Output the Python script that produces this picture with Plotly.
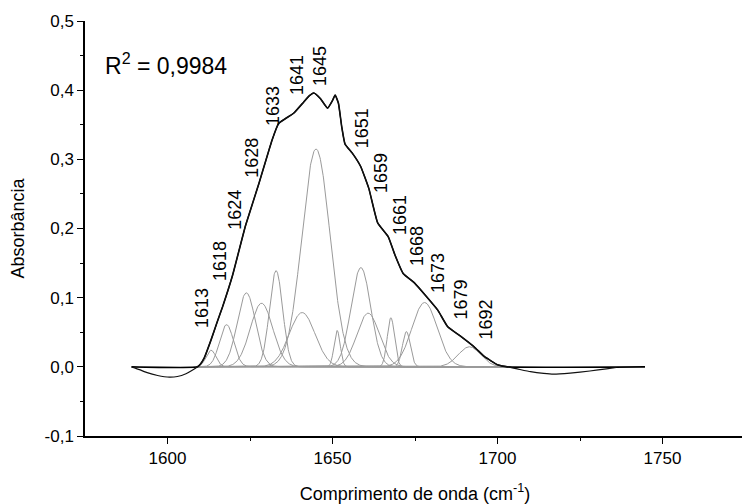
import numpy as np
import plotly.graph_objects as go

# ---- data ----
# measured spectrum: envelope core (cm-1, absorbance)
core_x = [1609.1, 1610.0, 1611.1, 1613.2, 1615.0, 1616.7, 1619.7, 1621.5, 1623.7, 1627.7,
          1631.7, 1633.7, 1635.8, 1638.3, 1641.3, 1643.0, 1644.3, 1646.3, 1648.5, 1650.0,
          1650.8, 1651.8, 1652.8, 1653.8, 1656.0, 1658.5, 1661.0, 1663.7, 1666.9, 1668.9,
          1671.4, 1674.9, 1678.4, 1681.9, 1684.9, 1688.9, 1692.9, 1696.0, 1700.0, 1703.0]
core_y = [0.000, 0.004, 0.0125, 0.039, 0.064, 0.087, 0.132, 0.165, 0.205, 0.265,
          0.328, 0.352, 0.359, 0.367, 0.383, 0.392, 0.396, 0.388, 0.374, 0.385,
          0.393, 0.381, 0.347, 0.322, 0.309, 0.290, 0.258, 0.208, 0.188, 0.162,
          0.135, 0.121, 0.102, 0.082, 0.058, 0.044, 0.029, 0.015, 0.003, 0.000]
# baseline-region dips of the measured spectrum
left_dip_x = [1589.1, 1591.5, 1593.6, 1597.0, 1600.6, 1603.0, 1605.6, 1607.5]
left_dip_y = [0.000, -0.004, -0.008, -0.0125, -0.015, -0.0140, -0.010, -0.005]
right_dip_x = [1706.0, 1710.0, 1714.0, 1717.0, 1722.0, 1728.0, 1733.0, 1736.0]
right_dip_y = [-0.003, -0.007, -0.0095, -0.0105, -0.009, -0.006, -0.003, -0.001]
# fitted curve range ends
fit_start, fit_end = 1589.1, 1744.7

# gaussian components: centre, height, FWHM
peak_center = [1613.2, 1617.9, 1623.9, 1628.5, 1632.9, 1640.8, 1645.0,
               1651.4, 1658.6, 1660.8, 1667.7, 1672.4, 1677.9, 1691.5]
peak_height = [0.024, 0.061, 0.107, 0.092, 0.139, 0.0785, 0.315,
               0.0525, 0.1435, 0.0776, 0.071, 0.051, 0.093, 0.029]
peak_fwhm = [3.5, 5.0, 6.5, 8.0, 4.7, 9.2, 10.0,
             2.2, 7.0, 8.0, 2.6, 2.8, 9.0, 8.0]
comp_range = (1609.0, 1703.0)

peak_labels = ["1613", "1618", "1624", "1628", "1633", "1641", "1645",
               "1651", "1659", "1661", "1668", "1673", "1679", "1692"]
r2_text = "R<sup>2</sup> = 0,9984"

y_tickvals = [-0.1, 0.0, 0.1, 0.2, 0.3, 0.4, 0.5]
y_ticktext = ["-0,1", "0,0", "0,1", "0,2", "0,3", "0,4", "0,5"]
x_tickvals = [1600, 1650, 1700, 1750]
x_ticktext = ["1600", "1650", "1700", "1750"]

# ---- layout of labels (anchor = bottom centre of the rotated text) ----
label_pos = [(1610.4, 0.053), (1615.9, 0.121), (1620.6, 0.196), (1625.5, 0.270),
             (1631.9, 0.345), (1639.2, 0.390), (1646.2, 0.403), (1658.9, 0.313),
             (1664.9, 0.248), (1670.5, 0.188), (1675.6, 0.143), (1682.0, 0.104),
             (1688.8, 0.065), (1696.4, 0.036)]

FONT = "Liberation Sans, Arial, sans-serif"

fig = go.Figure()

xs = np.linspace(comp_range[0], comp_range[1], 900)
for c, h, w in zip(peak_center, peak_height, peak_fwhm):
    s = w / 2.3548
    fig.add_trace(go.Scatter(x=xs, y=h * np.exp(-0.5 * ((xs - c) / s) ** 2),
                             mode="lines", line=dict(color="#9a9a9a", width=1),
                             hoverinfo="skip", showlegend=False))

# fitted curve (flat outside the band, follows the envelope inside)
fit_x = [fit_start] + core_x + [fit_end]
fit_y = [0.0] + core_y + [0.0]
fig.add_trace(go.Scatter(x=fit_x, y=fit_y, mode="lines",
                         line=dict(color="black", width=1.6, shape="spline", smoothing=0.4),
                         showlegend=False))
# measured spectrum
data_x = left_dip_x + core_x + right_dip_x
data_y = left_dip_y + core_y + right_dip_y
fig.add_trace(go.Scatter(x=data_x, y=data_y, mode="lines",
                         line=dict(color="#111111", width=1.2, shape="spline", smoothing=0.4),
                         showlegend=False))

for txt, (lx, ly) in zip(peak_labels, label_pos):
    fig.add_annotation(x=lx, y=ly, text=txt, textangle=-90, showarrow=False,
                       xanchor="center", yanchor="bottom",
                       font=dict(size=18, color="black", family=FONT))

fig.add_annotation(x=0.028, y=0.897, xref="paper", yref="paper", text=r2_text,
                   showarrow=False, xanchor="left", yanchor="middle",
                   font=dict(size=23, color="black", family=FONT))

# the page body adds an 8px offset; margins are set to compensate
fig.update_layout(
    width=750, height=504,
    margin=dict(l=77, r=13, t=13, b=76),
    paper_bgcolor="white", plot_bgcolor="white",
    font=dict(family=FONT, color="black", size=17),
    xaxis=dict(range=[1575, 1775], tickvals=x_tickvals, ticktext=x_ticktext,
               showgrid=False, zeroline=False, automargin=False,
               showline=True, linecolor="black", linewidth=1.5,
               ticks="outside", ticklen=6, tickwidth=1.2, tickcolor="black",
               minor=dict(ticks="outside", ticklen=3, tickvals=[1625, 1675, 1725, 1775],
                          tickcolor="black"),
               title=dict(text="Comprimento de onda (cm<sup>-1</sup>)", standoff=20,
                          font=dict(size=18)),
               tickfont=dict(size=17)),
    yaxis=dict(range=[-0.1, 0.5], tickvals=y_tickvals, ticktext=y_ticktext,
               showgrid=False, zeroline=False, automargin=False,
               showline=True, linecolor="black", linewidth=1.5,
               ticks="outside", ticklen=6, tickwidth=1.2, tickcolor="black",
               minor=dict(ticks="outside", ticklen=3,
                          tickvals=[-0.05, 0.05, 0.15, 0.25, 0.35, 0.45], tickcolor="black"),
               title=dict(text="Absorbância", standoff=16, font=dict(size=18)),
               tickfont=dict(size=17)),
)

fig.write_html("out.html")
